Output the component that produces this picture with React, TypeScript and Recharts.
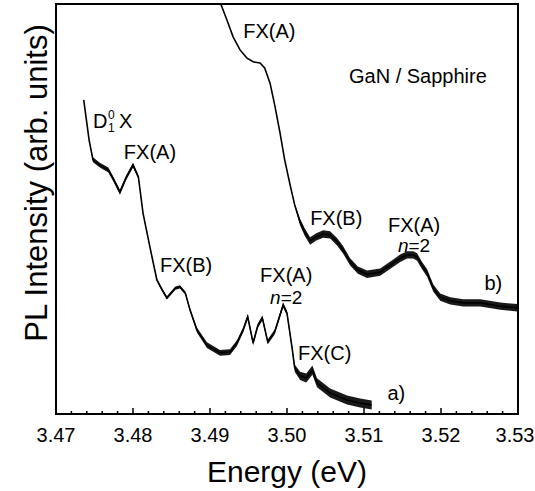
import React from "react"
import {
    ComposedChart,
    XAxis,
    YAxis,
    Line,
    Area,
    ReferenceArea,
    ReferenceDot,
} from "recharts"

const FONT = '"Liberation Sans", Arial, Helvetica, sans-serif'

// axis ranges
const E_MIN = 3.47
const E_MAX = 3.53
const I_MIN = 0
const I_MAX = 100

// energy axis (eV): labelled ticks, 4 minor ticks between each pair
const majorTicks = [3.47, 3.48, 3.49, 3.5, 3.51, 3.52, 3.53]
const minorTicks = majorTicks.slice(0, -1).flatMap((t) => [1, 2, 3, 4].map((k) => +(t + k * 0.002).toFixed(3)))
const allTicks = [...majorTicks, ...minorTicks].sort((p, q) => p - q)

// spectrum a) - energy, intensity (arb. units, 0 = bottom frame, 100 = top frame), noise half-width
const aEnergy = [
    3.4736, 3.4743, 3.4748, 3.4757, 3.4768, 3.4775, 3.4783, 3.4791, 3.48, 3.4807,
    3.4813, 3.4822, 3.4831, 3.4838, 3.4844, 3.4855, 3.4861, 3.4868, 3.4874, 3.4883,
    3.4896, 3.4913, 3.4926, 3.4935, 3.4943, 3.4949, 3.4956, 3.4962, 3.4968, 3.4975,
    3.4984, 3.4995, 3.5, 3.5007, 3.501, 3.5017, 3.5025, 3.5033, 3.5039, 3.5056,
    3.5078, 3.5095, 3.511,
]
const aIntensity = [
    76.6, 66.8, 62.0, 60.7, 59.5, 57.1, 54.1, 57.6, 60.7, 57.8,
    49.0, 40.7, 32.7, 30.2, 28.3, 30.7, 31.0, 29.5, 25.4, 20.5,
    16.8, 14.9, 15.1, 17.3, 20.5, 23.7, 17.3, 21.5, 23.4, 17.6,
    20.0, 26.6, 24.6, 15.6, 11.2, 9.3, 8.8, 10.7, 7.6, 5.1,
    3.4, 2.7, 2.2,
]
const aNoise = [
    0, 0, 0.6, 0.6, 0.6, 0.6, 0.6, 0.6, 0.6, 0.5,
    0.2, 0.2, 0.4, 0.4, 0.4, 0.4, 0.4, 0.4, 0.4, 0.6,
    0.7, 0.7, 0.7, 0.7, 0.6, 0.6, 0.6, 0.6, 0.6, 0.6,
    0.6, 0.6, 0.6, 0.6, 0.9, 1.0, 1.1, 1.1, 1.1, 1.1,
    1.1, 1.1, 1.1,
]

// spectrum b) (enters the frame at its top edge)
const bEnergy = [
    3.4914, 3.4922, 3.493, 3.4939, 3.4948, 3.4956, 3.4965, 3.4971, 3.4978, 3.4984,
    3.4991, 3.4997, 3.5004, 3.501, 3.5017, 3.5023, 3.503, 3.5038, 3.5047, 3.5056,
    3.5065, 3.5073, 3.5082, 3.5092, 3.5104, 3.5121, 3.5138, 3.5147, 3.5156, 3.5164,
    3.5169, 3.5175, 3.5182, 3.519, 3.5199, 3.5212, 3.5229, 3.5251, 3.5277, 3.5299,
]
const bIntensity = [
    100, 96.1, 92.0, 88.8, 86.8, 85.9, 85.6, 84.4, 80.7, 75.4,
    68.5, 62.0, 55.9, 51.0, 46.8, 44.4, 42.2, 43.2, 43.9, 43.7,
    42.0, 40.0, 37.1, 35.1, 34.1, 34.6, 36.8, 38.0, 38.8, 38.8,
    38.3, 36.3, 34.4, 30.7, 28.5, 27.6, 27.1, 27.1, 26.3, 25.9,
]
const bNoise = [
    0, 0, 0, 0, 0, 0, 0, 0, 0, 0,
    0, 0, 0.2, 0.3, 0.8, 0.9, 0.9, 0.9, 0.9, 0.9,
    0.9, 0.9, 0.9, 0.9, 0.9, 0.9, 0.9, 0.9, 0.9, 0.9,
    0.9, 0.9, 0.9, 0.9, 0.9, 0.9, 0.9, 0.9, 0.9, 0.9,
]

// peak annotations, anchored at (energy, intensity) = text baseline centre
const notes = [
    { text: "FX(A)", e: 3.4977, i: 91.7 },
    { text: "GaN / Sapphire", e: 3.517, i: 80.7 },
    { text: "D", e: 3.4748, i: 69.8, kind: "donor" },
    { text: "FX(A)", e: 3.4822, i: 62.2 },
    { text: "FX(B)", e: 3.4869, i: 34.6 },
    { text: "FX(A)", e: 3.4999, i: 32.3 },
    { text: "=2", e: 3.4999, i: 26.8, kind: "n" },
    { text: "FX(C)", e: 3.5049, i: 13.2 },
    { text: "a)", e: 3.5142, i: 3.4 },
    { text: "FX(B)", e: 3.5064, i: 46.1 },
    { text: "FX(A)", e: 3.5165, i: 44.4 },
    { text: "=2", e: 3.5165, i: 39.6, kind: "n" },
    { text: "b)", e: 3.5268, i: 30.2 },
]

const toRows = (es: number[], vs: number[], ns: number[]) =>
    es.map((e, k) => ({ e, v: vs[k], band: [vs[k] - ns[k], vs[k] + ns[k]] }))

const aData = toRows(aEnergy, aIntensity, aNoise)
const bData = toRows(bEnergy, bIntensity, bNoise)

// plot box traced along the domain corners
const frameData = [
    { e: E_MIN, v: I_MIN },
    { e: E_MIN, v: I_MAX },
    { e: E_MAX, v: I_MAX },
    { e: E_MAX, v: I_MIN },
    { e: E_MIN, v: I_MIN },
]

const EnergyTick = (props: any) => {
    const { x, y, payload } = props
    const major = majorTicks.some((t) => Math.abs(t - payload.value) < 1e-6)
    // keep the last label inside the 535px page
    const tx = Math.min(x, 535 - 20)
    return (
        <g>
            <line x1={x} x2={x} y1={y} y2={y - (major ? 6 : 3)} stroke="#000" strokeWidth={1.5} />
            {major && (
                <text x={tx} y={y + 28} textAnchor="middle" fontSize={20} fontFamily={FONT} fill="#000">
                    {payload.value.toFixed(2)}
                </text>
            )}
        </g>
    )
}

const NoteText = ({ cx, cy, note }: any) => {
    if (cx == null || cy == null) return null
    if (note.kind === "donor") {
        // D with stacked sub 1 / super 0, then X
        return (
            <g fontFamily={FONT} fill="#000">
                <text x={cx} y={cy} fontSize={20}>D</text>
                <text x={cx + 15} y={cy - 9} fontSize={12}>0</text>
                <text x={cx + 15} y={cy + 4} fontSize={12}>1</text>
                <text x={cx + 26} y={cy} fontSize={20}>X</text>
            </g>
        )
    }
    if (note.kind === "n") {
        return (
            <text x={cx} y={cy} textAnchor="middle" fontSize={19} fontFamily={FONT} fill="#000">
                <tspan fontStyle="italic">n</tspan>
                {note.text}
            </text>
        )
    }
    return (
        <text x={cx} y={cy} textAnchor="middle" fontSize={20} fontFamily={FONT} fill="#000">
            {note.text}
        </text>
    )
}

const XTitle = (p: any) => {
    const vb = p.viewBox || { x: 56, y: 414, width: 462 }
    return (
        <text x={vb.x + vb.width / 2} y={vb.y + 68} textAnchor="middle" fontSize={30} fontFamily={FONT} fill="#000">
            Energy (eV)
        </text>
    )
}

const YTitle = (p: any) => {
    const vb = p.viewBox || { x: 0, width: 56 }
    const x = vb.x + vb.width - 9
    const y = 183
    return (
        <text x={x} y={y} transform={`rotate(-90, ${x}, ${y})`} textAnchor="middle" fontSize={31} fontFamily={FONT} fill="#000">
            PL Intensity (arb. units)
        </text>
    )
}

export default function App() {
    return (
        <div style={{ position: "absolute", left: 0, top: 0, width: 535, height: 491, background: "#fff" }}>
            <ComposedChart width={535} height={491} margin={{ top: 4, right: 17, bottom: 0, left: 0 }}>
                <XAxis
                    dataKey="e"
                    type="number"
                    domain={[E_MIN, E_MAX]}
                    ticks={allTicks}
                    interval={0}
                    tick={<EnergyTick />}
                    tickLine={false}
                    axisLine={false}
                    tickSize={0}
                    tickMargin={0}
                    height={77}
                    label={<XTitle />}
                />
                <YAxis
                    type="number"
                    domain={[I_MIN, I_MAX]}
                    tick={false}
                    tickLine={false}
                    axisLine={false}
                    width={56}
                    label={<YTitle />}
                />
                <ReferenceArea
                    x1={E_MIN}
                    x2={E_MAX}
                    y1={I_MIN}
                    y2={I_MAX}
                    ifOverflow="visible"
                    fill="none"
                    stroke="#000"
                    strokeWidth={2}
                />
                <Line data={frameData} dataKey="v" type="linear" stroke="#000" strokeWidth={2} dot={false} isAnimationActive={false} />
                <Area data={aData} dataKey="band" type="linear" stroke="none" fill="#000" fillOpacity={0.9} isAnimationActive={false} />
                <Area data={bData} dataKey="band" type="linear" stroke="none" fill="#000" fillOpacity={0.9} isAnimationActive={false} />
                <Line data={aData} dataKey="v" type="linear" stroke="#000" strokeWidth={1.6} dot={false} isAnimationActive={false} />
                <Line data={bData} dataKey="v" type="linear" stroke="#000" strokeWidth={1.6} dot={false} isAnimationActive={false} />
                {notes.map((n, k) => (
                    <ReferenceDot key={k} x={n.e} y={n.i} r={0} shape={(p: any) => <NoteText {...p} note={n} />} />
                ))}
            </ComposedChart>
        </div>
    )
}
